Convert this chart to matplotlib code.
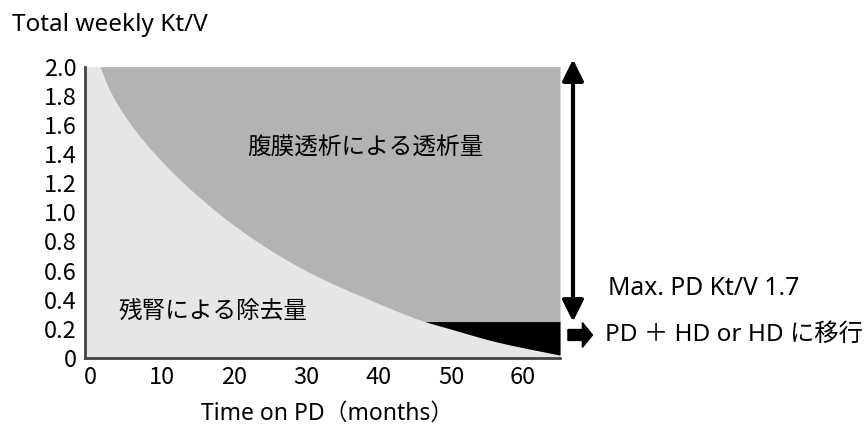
import matplotlib
matplotlib.use("Agg")
import matplotlib.pyplot as plt
import numpy as np
from matplotlib.patches import FancyArrow

plt.rcParams['font.family'] = ['Noto Sans CJK JP', 'DejaVu Sans']
LATIN = ['Noto Sans', 'Noto Sans CJK JP']

# Residual renal Kt/V curve
months = [0.0, 1.4, 2.8, 6.0, 9.2, 13.4, 20.8, 27.7, 32.3, 37.8, 46.1, 49.9, 56.4, 65.1]
residual_ktv = [2.2, 2.0, 1.83, 1.58, 1.39, 1.18, 0.88, 0.66, 0.54, 0.42, 0.255, 0.20, 0.11, 0.02]
total_target = 2.0
transfer_level = 0.25
x_ticks = [0, 10, 20, 30, 40, 50, 60]
y_ticks = [0, 0.2, 0.4, 0.6, 0.8, 1.0, 1.2, 1.4, 1.6, 1.8, 2.0]
y_tick_labels = ['0', '0.2', '0.4', '0.6', '0.8', '1.0', '1.2', '1.4', '1.6', '1.8', '2.0']


def pchip(xk, yk, xq):
    """Monotone cubic (Fritsch-Carlson) for a smooth drawn curve."""
    xk = np.asarray(xk, float); yk = np.asarray(yk, float)
    h = np.diff(xk); d = np.diff(yk) / h
    m = np.zeros_like(yk)
    for k in range(1, len(xk) - 1):
        if d[k-1] * d[k] > 0:
            w1 = 2*h[k] + h[k-1]; w2 = h[k] + 2*h[k-1]
            m[k] = (w1 + w2) / (w1/d[k-1] + w2/d[k])
    m[0] = d[0]; m[-1] = d[-1]
    idx = np.clip(np.searchsorted(xk, xq) - 1, 0, len(xk) - 2)
    t = (xq - xk[idx]) / h[idx]
    h00 = 2*t**3 - 3*t**2 + 1; h10 = t**3 - 2*t**2 + t
    h01 = -2*t**3 + 3*t**2; h11 = t**3 - t**2
    return h00*yk[idx] + h10*h[idx]*m[idx] + h01*yk[idx+1] + h11*h[idx]*m[idx+1]


fig = plt.figure(figsize=(8.66, 4.26), dpi=100)
ax = fig.add_axes([85/866, 1-358/426, (560-85)/866, (358-66.7)/426])

xf = np.linspace(min(months), max(months), 800)
yf = pchip(months, residual_ktv, xf)

ax.set_facecolor('#e6e6e6')
ax.fill_between(xf, yf, total_target, where=yf <= total_target + 1e-9, color='#b3b3b3', lw=0, interpolate=True)
ax.fill_between(xf, yf, transfer_level, where=yf <= transfer_level, color='black', lw=0, interpolate=True)

ax.set_xlim(-0.7, 65.1)
ax.set_ylim(0, 2.0)
ax.set_xticks(x_ticks)
ax.set_xticklabels([str(t) for t in x_ticks])
ax.set_yticks(y_ticks)
ax.set_yticklabels(y_tick_labels)
ax.tick_params(length=0, labelsize=17, pad=6)
for s in ['top', 'right']:
    ax.spines[s].set_visible(False)
for s in ['left', 'bottom']:
    ax.spines[s].set_color('#444444')
    ax.spines[s].set_linewidth(2)

ax.set_xlabel('Time on PD（months）', fontsize=16.5, family=LATIN, va='center')
ax.xaxis.set_label_coords(0.51, -0.19)
fig.text(12/866, 1-25/426, 'Total weekly Kt/V', fontsize=17.5, va='center', ha='left', family=LATIN)

ax.text(38.1, 1.44, '腹膜透析による透析量', fontsize=17, ha='center', va='center')
ax.text(3.9, 0.316, '残腎による除去量', fontsize=17, ha='left', va='center')

# double-headed arrow
ax.annotate('', xy=(66.9, 2.05), xytext=(66.9, 0.25),
            arrowprops=dict(arrowstyle='<|-|>', lw=3, mutation_scale=32, color='black',
                            shrinkA=0, shrinkB=0), annotation_clip=False)
# block arrow
arr = FancyArrow(66.2, 0.158, 3.4, 0, width=0.075, head_width=0.17, head_length=1.4,
                 length_includes_head=True, color='black', clip_on=False)
ax.add_patch(arr)

ax.text(71.8, 0.48, 'Max. PD Kt/V 1.7', fontsize=17.8, ha='left', va='center', clip_on=False, family=LATIN)
ax.text(71.4, 0.158, 'PD ＋ HD or HD に移行', fontsize=17.5, ha='left', va='center', clip_on=False, family=LATIN)

fig.savefig('out.png', dpi=100)
